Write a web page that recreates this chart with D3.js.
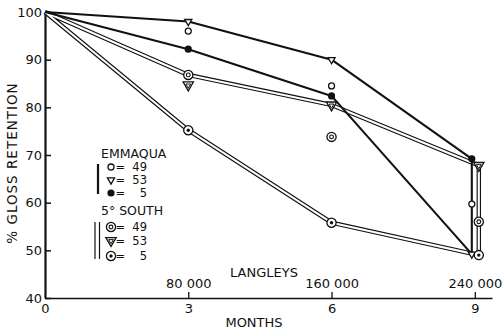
<!DOCTYPE html>
<html>
<head>
<meta charset="utf-8">
<script src="https://cdn.jsdelivr.net/npm/d3@7"></script>
<style>
  html, body { margin: 0; padding: 0; background: #fff; }
  svg { display: block; }
  text { font-family: "DejaVu Sans", sans-serif; fill: #111; }
</style>
</head>
<body>
<svg id="chart" width="502" height="333"></svg>
<script>
// Exposure time (months) and the corresponding solar radiation (langleys)
const months = [0, 3, 6, 9];
const monthTicks = [0, 3, 6, 9];
const langleyTickMonths = [3, 6, 9];
const langleys = [80000, 160000, 240000];
const glossTicks = [40, 50, 60, 70, 80, 90, 100];

// % gloss retention, EMMAQUA exposure
const emmaqua49 = [100, 96, 84.5, 59.7];
const emmaqua53 = [100, 98, 90, 49.2];
const emmaqua5  = [100, 92.2, 82.4, 69.2];

// % gloss retention, 5° South exposure
const south49 = [100, 86.8, 73.8, 56];
const south53 = [100, 84.7, 80.5, 67.8];
const south5  = [100, 75.2, 55.8, 49];

const svg = d3.select("#chart");
const ink = "#111";

const x = d3.scaleLinear().domain([0, 9.36]).range([45, 492]);
const y = d3.scaleLinear().domain([40, 100]).range([298, 12]);

// ---- marker glyphs ----
const tri = (s) => d3.symbol().type(d3.symbolTriangle).size(s)();
const markers = {
  open(g) {
    g.append("circle").attr("r", 3).attr("fill", "#fff").attr("stroke", ink).attr("stroke-width", 1.3);
  },
  tri(g) {
    g.append("path").attr("d", tri(22)).attr("transform", "rotate(180)")
      .attr("fill", "#fff").attr("stroke", ink).attr("stroke-width", 1.3);
  },
  dot(g) {
    g.append("circle").attr("r", 3.6).attr("fill", ink);
  },
  ring(g) {
    g.append("circle").attr("r", 4.6).attr("fill", "#fff").attr("stroke", ink).attr("stroke-width", 1.3);
    g.append("circle").attr("r", 1.9).attr("fill", "none").attr("stroke", ink).attr("stroke-width", 1.1);
  },
  dtri(g) {
    g.append("path").attr("d", tri(46)).attr("transform", "rotate(180)")
      .attr("fill", "#fff").attr("stroke", ink).attr("stroke-width", 1.3);
    g.append("path").attr("d", tri(10)).attr("transform", "rotate(180) translate(0,-0.5)")
      .attr("fill", "none").attr("stroke", ink).attr("stroke-width", 1);
  },
  bull(g) {
    g.append("circle").attr("r", 4.6).attr("fill", "#fff").attr("stroke", ink).attr("stroke-width", 1.3);
    g.append("circle").attr("r", 1.7).attr("fill", ink);
  }
};

// Two exposure groups; at month 9 the groups are set slightly apart
const groups = [
  { name: "EMMAQUA", style: "single", endShift: -3,
    series: [ { label: "49", values: emmaqua49, mark: "open" },
              { label: "53", values: emmaqua53, mark: "tri" },
              { label: "5",  values: emmaqua5,  mark: "dot" } ] },
  { name: "5° SOUTH", style: "double", endShift: 4,
    series: [ { label: "49", values: south49, mark: "ring" },
              { label: "53", values: south53, mark: "dtri" },
              { label: "5",  values: south5,  mark: "bull" } ] }
];

const px = (g, m) => x(m) + (m === 9 ? g.endShift : 0);

// ---- axes ----
const yAxis = d3.axisLeft(y).tickValues(glossTicks).tickSizeInner(-6).tickSizeOuter(0).tickPadding(3);
const gy = svg.append("g").attr("transform", `translate(${x(0)},0)`).call(yAxis);
gy.select(".domain").attr("stroke", ink).attr("stroke-width", 2.2);
gy.selectAll(".tick line").attr("stroke", ink).attr("stroke-width", 1.5);
gy.selectAll(".tick text").attr("font-size", 13).attr("font-family", "DejaVu Sans").attr("fill", ink);

const xAxis = d3.axisBottom(x).tickValues(monthTicks).tickSizeInner(0).tickSizeOuter(0).tickPadding(6);
const gx = svg.append("g").attr("transform", `translate(0,${y(40)})`).call(xAxis);
gx.select(".domain").attr("stroke", ink).attr("stroke-width", 1.6);
gx.selectAll(".tick text").attr("font-size", 13).attr("font-family", "DejaVu Sans").attr("fill", ink);

const spaceFmt = d3.formatLocale({ decimal: ".", thousands: " ", grouping: [3], currency: ["", ""] }).format(",");
const lAxis = d3.axisTop(x).tickValues(langleyTickMonths)
  .tickFormat((d, i) => spaceFmt(langleys[i])).tickSizeInner(6).tickSizeOuter(0).tickPadding(4);
const gl = svg.append("g").attr("transform", `translate(0,${y(40)})`).call(lAxis);
gl.select(".domain").remove();
gl.selectAll(".tick line").attr("stroke", ink).attr("stroke-width", 1.3);
gl.selectAll(".tick text").attr("font-size", 13).attr("font-family", "DejaVu Sans").attr("fill", ink);

svg.append("text").attr("x", 264).attr("y", 277).attr("text-anchor", "middle")
  .attr("font-size", 13).text("LANGLEYS");
svg.append("text").attr("x", 254).attr("y", 327).attr("text-anchor", "middle")
  .attr("font-size", 13).text("MONTHS");
svg.append("text").attr("transform", "translate(17,163) rotate(-90)").attr("text-anchor", "middle")
  .attr("font-size", 13.5).attr("letter-spacing", 1).text("% GLOSS RETENTION");

// ---- envelopes: upper (max) out to month 9, then lower (min) back to start ----
function envelope(g) {
  const upper = months.map((m, i) => [m, d3.max(g.series, s => s.values[i])]);
  const lower = months.map((m, i) => [m, d3.min(g.series, s => s.values[i])]).reverse();
  return upper.concat(lower);
}
const line = (g) => d3.line().x(d => px(g, d[0])).y(d => y(d[1]));

// double lines first, single black lines on top
groups.filter(g => g.style === "double").forEach(g => {
  const d = line(g)(envelope(g));
  svg.append("path").attr("d", d).attr("fill", "none").attr("stroke", ink)
    .attr("stroke-width", 4.4).attr("stroke-linejoin", "round");
  svg.append("path").attr("d", d).attr("fill", "none").attr("stroke", "#fff")
    .attr("stroke-width", 2.1).attr("stroke-linejoin", "round");
});
groups.filter(g => g.style === "single").forEach(g => {
  svg.append("path").attr("d", line(g)(envelope(g))).attr("fill", "none").attr("stroke", ink)
    .attr("stroke-width", 2.1).attr("stroke-linejoin", "round");
});

// ---- markers (the common 100 % start at month 0 is not marked) ----
groups.forEach(g => {
  g.series.forEach(s => {
    months.forEach((m, i) => {
      if (m === 0) return;
      const mg = svg.append("g").attr("transform", `translate(${px(g, m)},${y(s.values[i])})`);
      markers[s.mark](mg);
    });
  });
});

// ---- legend ----
const legendFont = 11.5;
const legend = [
  { g: groups[0], titleY: 158, rows: [167, 180, 193], barX: [98], barY: [164, 194] },
  { g: groups[1], titleY: 215, rows: [227, 240.5, 256], barX: [95, 99.5], barY: [222, 259] }
];
legend.forEach(L => {
  svg.append("text").attr("x", 101).attr("y", L.titleY).attr("font-size", 12.5).text(L.g.name);
  L.barX.forEach(bx => {
    svg.append("line").attr("x1", bx).attr("x2", bx).attr("y1", L.barY[0]).attr("y2", L.barY[1])
      .attr("stroke", ink).attr("stroke-width", L.barX.length > 1 ? 1.2 : 2.2);
  });
  L.g.series.forEach((s, i) => {
    const mg = svg.append("g").attr("transform", `translate(111,${L.rows[i]})`);
    markers[s.mark](mg);
    svg.append("text").attr("x", 115.5).attr("y", L.rows[i] + 4.2).attr("font-size", legendFont).text("=");
    svg.append("text").attr("x", 147).attr("y", L.rows[i] + 4.2).attr("text-anchor", "end")
      .attr("font-size", legendFont).text(s.label);
  });
});
</script>
</body>
</html>
